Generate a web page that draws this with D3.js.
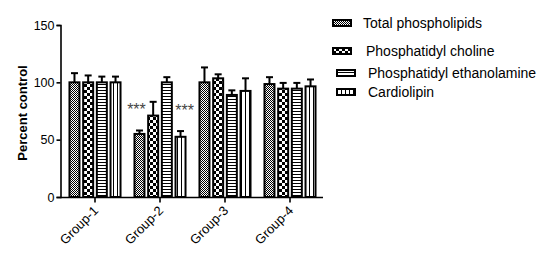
<!DOCTYPE html>
<html><head><meta charset="utf-8">
<script src="https://cdn.jsdelivr.net/npm/d3@7/dist/d3.min.js"></script>
<style>body{margin:0;background:#fff}svg{display:block}</style>
</head><body>
<svg id="c" width="539" height="260"></svg>
<script>
const groups = ["Group-1","Group-2","Group-3","Group-4"];
const series = ["Total phospholipids","Phosphatidyl choline","Phosphatidyl ethanolamine","Cardiolipin"];
const values = [
  [100, 100, 100, 100],
  [55, 71, 100, 52.5],
  [100, 103.5, 89, 92.5],
  [98.5, 94.5, 94.5, 96.5]
];
const errors = [
  [8, 6, 5, 5],
  [3, 12, 4.5, 5],
  [13, 3.5, 4, 11],
  [6, 5, 5, 6]
];
const yTicks = [0, 50, 100, 150];
const stars = [{g:1, s:0, dx:-3, text:"***"}, {g:1, s:3, dx:4, text:"***"}];

const svg = d3.select("#c");
const font = "Liberation Sans, Arial, sans-serif";
const defs = svg.append("defs");
let p = defs.append("pattern").attr("id","p0").attr("patternUnits","userSpaceOnUse").attr("width",2).attr("height",2);
p.append("rect").attr("width",2).attr("height",2).attr("fill","#fff");
p.append("rect").attr("x",0).attr("y",0).attr("width",1).attr("height",1).attr("fill","#000");
p.append("rect").attr("x",1).attr("y",1).attr("width",1).attr("height",1).attr("fill","#000");
p = defs.append("pattern").attr("id","p1").attr("patternUnits","userSpaceOnUse").attr("width",6).attr("height",6);
p.append("rect").attr("width",6).attr("height",6).attr("fill","#fff");
p.append("rect").attr("x",0).attr("y",0).attr("width",3).attr("height",3).attr("fill","#000");
p.append("rect").attr("x",3).attr("y",3).attr("width",3).attr("height",3).attr("fill","#000");
p = defs.append("pattern").attr("id","p2").attr("patternUnits","userSpaceOnUse").attr("width",3).attr("height",3);
p.append("rect").attr("width",3).attr("height",3).attr("fill","#fff");
p.append("rect").attr("x",0).attr("y",0).attr("width",3).attr("height",1).attr("fill","#000");
p = defs.append("pattern").attr("id","p3").attr("patternUnits","userSpaceOnUse").attr("width",4).attr("height",4);
p.append("rect").attr("width",4).attr("height",4).attr("fill","#fff");
p.append("rect").attr("x",1).attr("y",0).attr("width",1).attr("height",4).attr("fill","#000");

const y = d3.scaleLinear().domain([0,150]).range([197,25]);
const x0 = d3.scaleBand().domain(groups).range([62.5,322.5]);
const x1 = d3.scaleBand().domain(d3.range(series.length)).range([0, x0.bandwidth()]).paddingInner(0.27).paddingOuter(0.51);

groups.forEach((g, gi) => {
  series.forEach((s, si) => {
    const v = values[gi][si], e = errors[gi][si];
    const bx = x0(g) + x1(si), bw = x1.bandwidth();
    const cx = bx + bw/2;
    svg.append("line").attr("x1",cx).attr("x2",cx).attr("y1",y(v)).attr("y2",y(v+e)).attr("stroke","#000").attr("stroke-width",2);
    svg.append("line").attr("x1",cx-3.5).attr("x2",cx+3.5).attr("y1",y(v+e)).attr("y2",y(v+e)).attr("stroke","#000").attr("stroke-width",2);
    svg.append("rect").attr("x",bx).attr("y",y(v)).attr("width",bw).attr("height",y(0)-y(v))
      .attr("fill","url(#p"+si+")").attr("stroke","#000").attr("stroke-width",2);
  });
});

stars.forEach(st => {
  const g = groups[st.g];
  const cx = x0(g) + x1(st.s) + x1.bandwidth()/2 + st.dx;
  const v = values[st.g][st.s] + errors[st.g][st.s];
  svg.append("text").attr("x",cx).attr("y",y(v)-15).attr("text-anchor","middle")
    .attr("font-family",font).attr("font-size",16).attr("fill","#444").text(st.text);
});

const yAxis = svg.append("g").attr("transform","translate(60.5,0)")
  .call(d3.axisLeft(y).tickValues(yTicks).tickSize(4).tickPadding(2));
yAxis.select(".domain").attr("stroke-width",1.6);
yAxis.selectAll(".tick line").attr("stroke-width",1.6);
yAxis.selectAll("text").attr("font-family",font).attr("font-size",12.5).attr("fill","#000");

const xAxis = svg.append("g").attr("transform","translate(0,197.5)")
  .call(d3.axisBottom(x0).tickSize(5).tickSizeOuter(0));
xAxis.select(".domain").attr("d","M60,0H323").attr("stroke-width",1.6);
xAxis.selectAll(".tick line").attr("stroke-width",1.6);
xAxis.selectAll("text").attr("font-family",font).attr("font-size",13).attr("fill","#000")
  .attr("text-anchor","end").attr("dy",null).attr("y",null)
  .attr("transform","translate(4,14) rotate(-45)");

svg.append("text").attr("transform","translate(27,113) rotate(-90)").attr("text-anchor","middle")
  .attr("font-family",font).attr("font-size",13).attr("font-weight","bold").text("Percent control");

const legX = [333, 333, 337, 337];
const legY = [23, 51, 73, 92];
const legTX = [363, 366, 368, 368];
series.forEach((s, si) => {
  svg.append("rect").attr("x",legX[si]).attr("y",legY[si]-3).attr("width",18).attr("height",6)
    .attr("fill","url(#p"+si+")").attr("stroke","#000").attr("stroke-width",2);
  svg.append("text").attr("x",legTX[si]).attr("y",legY[si]+5).attr("font-family",font).attr("font-size",14)
    .attr("fill","#000").text(s);
});
</script>
</body></html>
